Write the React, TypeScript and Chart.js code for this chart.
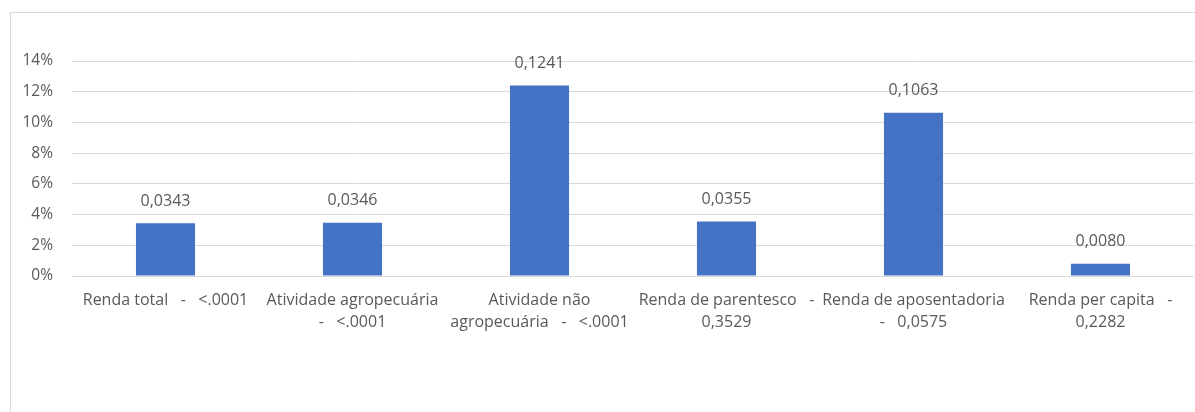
import React, { useEffect, useRef } from "react";
import { Chart, registerables } from "chart.js";

Chart.register(...registerables);

const categories: (string | string[])[] = [
  "Renda total   -   <.0001",
  ["Atividade agropecuária", "-   <.0001"],
  ["Atividade não", "agropecuária   -   <.0001"],
  ["Renda de parentesco   -", "0,3529"],
  ["Renda de aposentadoria", "-   0,0575"],
  ["Renda per capita   -", "0,2282"],
];
const values = [0.0343, 0.0346, 0.1241, 0.0355, 0.1063, 0.008];
const yTicks = [0, 0.02, 0.04, 0.06, 0.08, 0.1, 0.12, 0.14];

const FONT = "'Open Sans', 'Liberation Sans', sans-serif";
const TEXT = "#595959";

const dataLabels = {
  id: "dataLabels",
  afterDatasetsDraw(chart: any) {
    const ctx = chart.ctx;
    const meta = chart.getDatasetMeta(0);
    ctx.save();
    ctx.font = `16px ${FONT}`;
    ctx.fillStyle = TEXT;
    ctx.textAlign = "center";
    ctx.textBaseline = "middle";
    meta.data.forEach((el: any, i: number) => {
      const v = values[i].toFixed(4).replace(".", ",");
      ctx.fillText(v, el.x, el.y - 22);
    });
    ctx.restore();
  },
};

export default function App() {
  const ref = useRef<HTMLCanvasElement>(null);
  useEffect(() => {
    const chart = new Chart(ref.current!, {
      type: "bar",
      data: {
        labels: categories,
        datasets: [
          {
            data: values,
            backgroundColor: "#4472C4",
            categoryPercentage: 1,
            barPercentage: 0.316,
          },
        ],
      },
      options: {
        animation: false,
        responsive: false,
        maintainAspectRatio: false,
        layout: { padding: { top: 61, right: 1, left: 0, bottom: 0 } },
        plugins: { legend: { display: false }, tooltip: { enabled: false } },
        scales: {
          x: {
            grid: { display: false, drawTicks: false },
            border: { display: false },
            ticks: {
              color: TEXT,
              font: { family: FONT, size: 16, lineHeight: 1.38 },
              padding: 13,
              maxRotation: 0,
              autoSkip: false,
            },
            afterFit: (s: any) => {
              s.height = 136;
            },
          },
          y: {
            min: 0,
            max: 0.14,
            afterBuildTicks: (s: any) => {
              s.ticks = yTicks.map((v) => ({ value: v }));
            },
            grid: { color: "#d9d9d9", lineWidth: 1, drawTicks: false },
            border: { display: false },
            ticks: {
              color: TEXT,
              font: { family: FONT, size: 15.5 },
              padding: 19,
              callback: (v: any) => Math.round(Number(v) * 100) + "%",
            },
            afterFit: (s: any) => {
              s.width = 72;
            },
          },
        },
      },
      plugins: [dataLabels],
    });
    return () => chart.destroy();
  }, []);

  return (
    <div
      style={{
        position: "fixed",
        left: 0,
        top: 0,
        width: 1195,
        height: 412,
        overflow: "hidden",
        background: "#fff",
      }}
    >
      <div
        style={{
          position: "absolute",
          left: 10,
          top: 12,
          width: 1220,
          height: 440,
          border: "1px solid #d9d9d9",
          boxSizing: "border-box",
        }}
      />
      <canvas
        ref={ref}
        width={1195}
        height={412}
        style={{ position: "absolute", left: 0, top: 0, width: 1195, height: 412 }}
      />
    </div>
  );
}
